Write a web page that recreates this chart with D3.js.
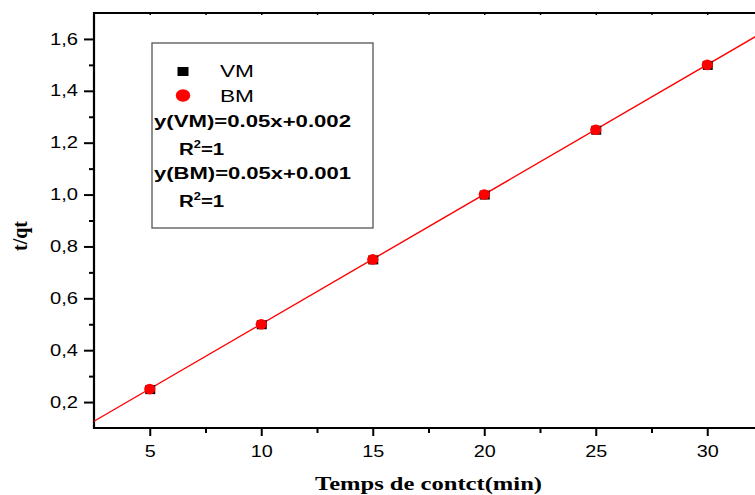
<!DOCTYPE html>
<html>
<head>
<meta charset="utf-8">
<script src="https://cdn.jsdelivr.net/npm/d3@7"></script>
<style>
  html, body { margin: 0; padding: 0; background: #fff; }
  svg { display: block; }
</style>
</head>
<body>
<svg id="chart" width="755" height="495"></svg>
<script>
// ---- data ----
const time = [5, 10, 15, 20, 25, 30];
const vmValues = [0.25, 0.50, 0.75, 1.00, 1.25, 1.50];
const bmValues = [0.25, 0.50, 0.75, 1.00, 1.25, 1.50];
const fitSlope = 0.05;
const fitIntercept = 0.001;
const xDomain = [2.5, 32.5];
const yDomain = [0.1, 1.7];
const xTicks = [5, 10, 15, 20, 25, 30];
const xMinorTicks = [7.5, 12.5, 17.5, 22.5, 27.5];
const yTicks = [0.2, 0.4, 0.6, 0.8, 1.0, 1.2, 1.4, 1.6];
const yMinorTicks = [0.3, 0.5, 0.7, 0.9, 1.1, 1.3, 1.5];
const legendItems = ["VM", "BM"];
const equations = ["y(VM)=0.05x+0.002", "y(BM)=0.05x+0.001"];

(function () {
const svg = d3.select("#chart");
const pL = 94, pR = 763, pT = 13, pB = 428;

const x = d3.scaleLinear().domain(xDomain).range([pL, pR]);
const y = d3.scaleLinear().domain(yDomain).range([pB, pT]);

const sans = "'Liberation Sans', Arial, sans-serif";
const serif = "'Liberation Serif', 'Times New Roman', serif";
const fmtY = d => d3.format(".1f")(d).replace(".", ",");

// ---- minor ticks ----
svg.append("g").attr("transform", `translate(0,${pB})`)
  .call(d3.axisBottom(x).tickValues(xMinorTicks).tickSize(5).tickFormat(""))
  .call(g => g.select(".domain").remove())
  .call(g => g.selectAll("line").attr("stroke", "#000").attr("stroke-width", 2));
svg.append("g").attr("transform", `translate(${pL},0)`)
  .call(d3.axisLeft(y).tickValues(yMinorTicks).tickSize(5).tickFormat(""))
  .call(g => g.select(".domain").remove())
  .call(g => g.selectAll("line").attr("stroke", "#000").attr("stroke-width", 2));

// top axis, inward small ticks
svg.append("g").attr("transform", `translate(0,${pT})`)
  .call(d3.axisBottom(x).tickValues(xTicks.concat(xMinorTicks)).tickSize(2).tickFormat(""))
  .call(g => g.select(".domain").remove())
  .call(g => g.selectAll("line").attr("stroke", "#000").attr("stroke-width", 1.5));

// ---- major axes ----
const xAxis = svg.append("g").attr("transform", `translate(0,${pB})`)
  .call(d3.axisBottom(x).tickValues(xTicks).tickSize(8).tickPadding(10).tickSizeOuter(0));
xAxis.select(".domain").remove();
xAxis.selectAll("line").attr("stroke", "#000").attr("stroke-width", 2);
xAxis.selectAll("text")
  .attr("fill", "#000")
  .style("font-family", sans).style("font-size", "16px")
  .attr("textLength", d => String(d).length * 11)
  .attr("lengthAdjust", "spacingAndGlyphs");

const yAxis = svg.append("g").attr("transform", `translate(${pL},0)`)
  .call(d3.axisLeft(y).tickValues(yTicks).tickSize(10).tickPadding(6).tickFormat(fmtY).tickSizeOuter(0));
yAxis.select(".domain").remove();
yAxis.selectAll("line").attr("stroke", "#000").attr("stroke-width", 2);
yAxis.selectAll("text")
  .attr("fill", "#000")
  .style("font-family", sans).style("font-size", "16px")
  .attr("textLength", 28)
  .attr("lengthAdjust", "spacingAndGlyphs");

// frame lines
svg.append("line").attr("x1", pL).attr("x2", pR).attr("y1", pB).attr("y2", pB)
  .attr("stroke", "#000").attr("stroke-width", 2.2);
svg.append("line").attr("x1", pL).attr("x2", pR).attr("y1", pT).attr("y2", pT)
  .attr("stroke", "#000").attr("stroke-width", 2.2);
svg.append("line").attr("x1", pL).attr("x2", pL).attr("y1", pT - 1).attr("y2", pB + 1)
  .attr("stroke", "#000").attr("stroke-width", 2.2);
svg.append("line").attr("x1", pR).attr("x2", pR).attr("y1", pT - 1).attr("y2", pB + 1)
  .attr("stroke", "#000").attr("stroke-width", 2.2);

// ---- fit line ----
svg.append("path")
  .datum(xDomain)
  .attr("fill", "none").attr("stroke", "#ff0000").attr("stroke-width", 1.4)
  .attr("d", d3.line().x(d => x(d)).y(d => y(fitSlope * d + fitIntercept)));

// ---- points ----
svg.append("g").selectAll("rect").data(time).join("rect")
  .attr("x", d => x(d) - 4.5).attr("y", (d, i) => y(vmValues[i]) - 4)
  .attr("width", 10).attr("height", 9).attr("fill", "#000");
svg.append("g").selectAll("ellipse").data(time).join("ellipse")
  .attr("cx", d => x(d)).attr("cy", (d, i) => y(bmValues[i]))
  .attr("rx", 5.6).attr("ry", 5.3).attr("fill", "#ff0000");

// ---- legend ----
const lg = svg.append("g");
lg.append("rect").attr("x", 152).attr("y", 43).attr("width", 221).attr("height", 185)
  .attr("fill", "#fff").attr("stroke", "#555").attr("stroke-width", 1.3);
lg.append("rect").attr("x", 177.5).attr("y", 67).attr("width", 11).attr("height", 9).attr("fill", "#000");
lg.append("ellipse").attr("cx", 183).attr("cy", 95.5).attr("rx", 7.2).attr("ry", 6.2).attr("fill", "#ff0000");
legendItems.forEach((t, i) => {
  lg.append("text").attr("x", 220).attr("y", 76.5 + i * 25)
    .style("font-family", sans).style("font-size", "17px").attr("fill", "#000")
    .attr("textLength", 34).attr("lengthAdjust", "spacingAndGlyphs")
    .text(t);
});
equations.forEach((t, i) => {
  const by = 126.5 + i * 52;
  lg.append("text").attr("x", 154).attr("y", by)
    .style("font-family", sans).style("font-size", "16px").style("font-weight", "bold").attr("fill", "#000")
    .attr("textLength", 197).attr("lengthAdjust", "spacingAndGlyphs")
    .text(t);
  const r = lg.append("text").attr("transform", `translate(179,${by + 28}) scale(1.28,1)`)
    .style("font-family", sans).style("font-size", "16px").style("font-weight", "bold").attr("fill", "#000");
  r.append("tspan").text("R");
  r.append("tspan").attr("dy", -7).style("font-size", "10px").text("2");
  r.append("tspan").attr("dy", 7).text("=1");
});

// ---- axis titles ----
svg.append("text").attr("x", 428.5).attr("y", 490)
  .attr("text-anchor", "middle")
  .style("font-family", serif).style("font-size", "19px").style("font-weight", "bold").attr("fill", "#000")
  .attr("textLength", 227).attr("lengthAdjust", "spacingAndGlyphs")
  .text("Temps de contct(min)");
svg.append("text").attr("transform", "translate(27,236) rotate(-90)")
  .attr("text-anchor", "middle")
  .style("font-family", serif).style("font-size", "20px").style("font-weight", "bold").attr("fill", "#000")
  .text("t/qt");
})();
</script>
</body>
</html>
